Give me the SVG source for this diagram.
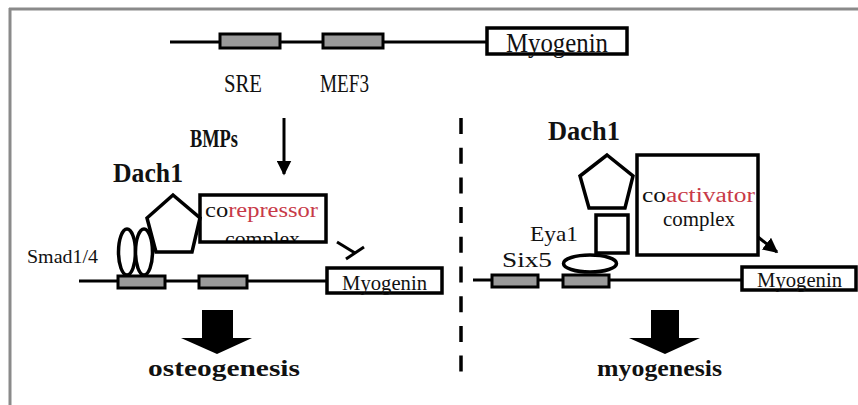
<svg xmlns="http://www.w3.org/2000/svg" width="858" height="405" viewBox="0 0 858 405">
<defs>
<style>
.ln{stroke:#000;stroke-width:3;fill:none}
.gb{fill:#9a9a9a;stroke:#000;stroke-width:3}
.bx{fill:#fff;stroke:#000;stroke-width:3.5}
.sh{fill:#fff;stroke:#000;stroke-width:3.5}
.ser{font-family:"Liberation Serif","DejaVu Serif",serif;fill:#111}
.red{fill:#c83a48}
</style>
<marker id="ah" viewBox="0 0 10 10" refX="9" refY="5" markerWidth="5" markerHeight="5" orient="auto" markerUnits="strokeWidth">
<path d="M0,0 L10,5 L0,10 z" fill="#000"/>
</marker>
<clipPath id="cpL"><rect x="201" y="196" width="124" height="45"/></clipPath>
</defs>
<rect width="858" height="405" fill="#fff"/>
<g id="frame">
<line x1="9" y1="9" x2="858" y2="9" stroke="#8a8a8a" stroke-width="3"/>
<line x1="10" y1="8" x2="10" y2="405" stroke="#8a8a8a" stroke-width="3"/>
</g>

<g id="top-gene">
<line class="ln" x1="170" y1="42" x2="487" y2="42"/>
<rect class="gb" x="220" y="34" width="60" height="14"/>
<rect class="gb" x="323" y="34" width="60" height="14"/>
<rect class="bx" x="487" y="28" width="140" height="26"/>
<text class="ser" x="506" y="52" font-size="27" textLength="102" lengthAdjust="spacingAndGlyphs">Myogenin</text>
<text class="ser" x="224" y="92" font-size="25" textLength="38" lengthAdjust="spacingAndGlyphs">SRE</text>
<text class="ser" x="320" y="92" font-size="25" textLength="49" lengthAdjust="spacingAndGlyphs">MEF3</text>
</g>

<g id="divider">
<line x1="461" y1="118" x2="461" y2="372" stroke="#000" stroke-width="3.5" stroke-dasharray="16 13.7"/>
</g>

<g id="connectors">
<line class="ln" x1="284" y1="118" x2="284" y2="174" marker-end="url(#ah)"/>
<line class="ln" x1="337" y1="242" x2="355" y2="253"/>
<line class="ln" x1="346" y1="259" x2="364" y2="247"/>
<line class="ln" x1="758" y1="237" x2="777" y2="252" marker-end="url(#ah)"/>
<polygon points="202,310 233,310 233,338 252,338 217,354 181,338 202,338" fill="#000"/>
<polygon points="651,310 679,310 679,338 700,338 665,354 629,338 651,338" fill="#000"/>
</g>

<g id="bmps">
<text class="ser" x="190" y="147" font-size="25" font-weight="bold" textLength="48" lengthAdjust="spacingAndGlyphs">BMPs</text>
</g>

<g id="left-gene">
<line class="ln" x1="79" y1="281" x2="327" y2="281"/>
<rect class="gb" x="118" y="276" width="47" height="12"/>
<rect class="gb" x="199" y="276" width="48" height="12"/>
<rect class="bx" x="327" y="268" width="115" height="25"/>
<text class="ser" x="342" y="290" font-size="22" textLength="85" lengthAdjust="spacingAndGlyphs">Myogenin</text>
</g>

<g id="smad">
<ellipse class="sh" cx="127" cy="252" rx="8.5" ry="23"/>
<ellipse class="sh" cx="144" cy="252" rx="8.5" ry="23"/>
<text class="ser" x="27" y="263" font-size="19" textLength="71" lengthAdjust="spacingAndGlyphs">Smad1/4</text>
</g>

<g id="dach1-left">
<polygon class="sh" points="173,195 200,218 192,252 156,252 147,218"/>
<text class="ser" x="113" y="182" font-size="28" font-weight="bold" textLength="70" lengthAdjust="spacingAndGlyphs">Dach1</text>
</g>

<g id="corepressor">
<g clip-path="url(#cpL)">
<text class="ser" x="205" y="217" font-size="20" textLength="113" lengthAdjust="spacingAndGlyphs">co<tspan class="red">repressor</tspan></text>
<text class="ser" x="225" y="246" font-size="20" textLength="75" lengthAdjust="spacingAndGlyphs">complex</text>
</g>
<rect x="200" y="195" width="126" height="47" fill="none" stroke="#000" stroke-width="3.5"/>
</g>

<g id="osteo">
<text class="ser" x="148" y="376" font-size="23" font-weight="bold" textLength="152" lengthAdjust="spacingAndGlyphs">osteogenesis</text>
</g>

<g id="right-gene">
<line class="ln" x1="473" y1="280" x2="742" y2="280"/>
<rect class="gb" x="492" y="275" width="46" height="12"/>
<rect class="gb" x="563" y="275" width="46" height="12"/>
<rect class="bx" x="742" y="267" width="114" height="23"/>
<text class="ser" x="757" y="287" font-size="22" textLength="85" lengthAdjust="spacingAndGlyphs">Myogenin</text>
<text class="ser" x="502" y="267" font-size="22" textLength="50" lengthAdjust="spacingAndGlyphs">Six5</text>
</g>

<g id="eya1">
<ellipse class="sh" cx="590" cy="263.5" rx="26.5" ry="8.5"/>
<rect class="sh" x="596" y="215" width="32" height="38"/>
<text class="ser" x="530" y="241" font-size="22" textLength="48" lengthAdjust="spacingAndGlyphs">Eya1</text>
</g>

<g id="dach1-right">
<polygon class="sh" points="607,155 633,176 625,208 589,208 580,176"/>
<text class="ser" x="548" y="140" font-size="28" font-weight="bold" textLength="72" lengthAdjust="spacingAndGlyphs">Dach1</text>
</g>

<g id="coactivator">
<rect class="bx" x="637" y="155" width="121" height="100"/>
<text class="ser" x="642" y="202" font-size="20" textLength="113" lengthAdjust="spacingAndGlyphs">co<tspan class="red">activator</tspan></text>
<text class="ser" x="663" y="226" font-size="20" textLength="72" lengthAdjust="spacingAndGlyphs">complex</text>
</g>

<g id="myo">
<text class="ser" x="597" y="376" font-size="23" font-weight="bold" textLength="125" lengthAdjust="spacingAndGlyphs">myogenesis</text>
</g>
</svg>
